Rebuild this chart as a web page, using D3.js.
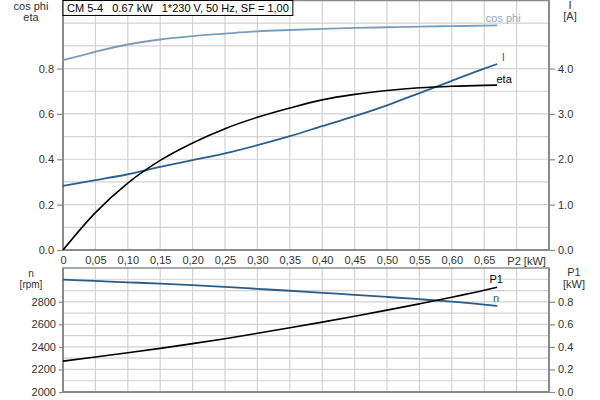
<!DOCTYPE html>
<html><head><meta charset="utf-8">
<script src="https://cdn.jsdelivr.net/npm/d3@7/dist/d3.min.js"></script>
<style>
html,body{margin:0;padding:0;background:#fff;}
svg text{font-family:"Liberation Sans",Arial,sans-serif;}
</style></head>
<body><svg id="c" width="600" height="400"></svg>
<script>
// ---- data ----
const title = "CM 5-4   0.67 kW   1*230 V, 50 Hz, SF = 1,00";
const p2 = [0, 0.05, 0.10, 0.15, 0.20, 0.25, 0.30, 0.35, 0.40, 0.45, 0.50, 0.55, 0.60, 0.65, 0.67];
const cosPhi = [0.837, 0.874, 0.906, 0.928, 0.943, 0.954, 0.964, 0.970, 0.975, 0.979, 0.982, 0.985, 0.987, 0.989, 0.990];
const eta = [0, 0.165, 0.295, 0.395, 0.472, 0.535, 0.585, 0.626, 0.662, 0.686, 0.703, 0.715, 0.722, 0.726, 0.727];
const current = [1.415, 1.54, 1.67, 1.83, 1.98, 2.13, 2.31, 2.51, 2.73, 2.95, 3.19, 3.46, 3.73, 4.00, 4.10];
const speed = [2997, 2985, 2973, 2961, 2948, 2932, 2915, 2898, 2880, 2862, 2843, 2823, 2801, 2775, 2763];
const p1 = [0.274, 0.310, 0.348, 0.387, 0.429, 0.473, 0.521, 0.570, 0.620, 0.672, 0.726, 0.782, 0.840, 0.902, 0.929];
const xTicks = [0, 0.05, 0.10, 0.15, 0.20, 0.25, 0.30, 0.35, 0.40, 0.45, 0.50, 0.55, 0.60, 0.65];
const etaTicks = [0, 0.2, 0.4, 0.6, 0.8];
const iTicks = [0, 1, 2, 3, 4];
const nTicks = [2000, 2200, 2400, 2600, 2800];
const p1Ticks = [0, 0.2, 0.4, 0.6, 0.8];

// ---- layout ----
const L = 63, R = 549;
const top1 = 0.5, bot1 = 250;
const top2 = 268, bot2 = 392;
const svg = d3.select("#c");
const font = 11;
const x = d3.scaleLinear().domain([0, 0.75]).range([L, R]);
const yL1 = d3.scaleLinear().domain([0, 1.1]).range([bot1, top1]);
const yR1 = d3.scaleLinear().domain([0, 5.5]).range([bot1, top1]);
const yL2 = d3.scaleLinear().domain([2000, 3100]).range([bot2, top2]);
const yR2 = d3.scaleLinear().domain([0, 1.1]).range([bot2, top2]);

const gridC = "#d2d2d2", axisC = "#8a8a8a", txtC = "#333";
const vGrid = d3.range(1, 15).map(i => i * 0.05);

function grid(yScale, hVals, t, b) {
  const g = svg.append("g");
  g.selectAll(".v").data(vGrid).join("line")
    .attr("x1", d => x(d)).attr("x2", d => x(d)).attr("y1", t).attr("y2", b)
    .attr("stroke", gridC).attr("stroke-width", 1.2);
  g.selectAll(".h").data(hVals).join("line")
    .attr("x1", L).attr("x2", R).attr("y1", d => yScale(d)).attr("y2", d => yScale(d))
    .attr("stroke", gridC).attr("stroke-width", 1.2);
}
grid(yL1, d3.range(1, 11).map(i => i / 10), top1, bot1);
grid(yL2, d3.range(1, 11).map(i => 2000 + i * 100), top2, bot2);

// frames
[[top1, bot1], [top2, bot2]].forEach(([t, b]) => {
  svg.append("rect").attr("x", L).attr("y", t).attr("width", R - L).attr("height", b - t)
    .attr("fill", "none").attr("stroke", axisC).attr("stroke-width", 1.5);
  svg.append("line").attr("x1", L).attr("x2", L).attr("y1", t).attr("y2", b).attr("stroke", axisC).attr("stroke-width", 2);
  svg.append("line").attr("x1", R).attr("x2", R).attr("y1", t).attr("y2", b).attr("stroke", axisC).attr("stroke-width", 2);
  svg.append("line").attr("x1", L).attr("x2", R).attr("y1", b).attr("y2", b).attr("stroke", axisC).attr("stroke-width", 2);
});

// axes
function styleAxis(g) {
  g.select(".domain").remove();
  g.selectAll(".tick line").attr("stroke", axisC).attr("stroke-width", 1.2);
  g.selectAll(".tick text").attr("fill", txtC).style("font-size", font + "px")
    .style("font-family", '"Liberation Sans",Arial,sans-serif');
}
const fmt1 = d3.format(".1f");
svg.append("g").attr("transform", `translate(${L},0)`)
  .call(d3.axisLeft(yL1).tickValues(etaTicks).tickFormat(fmt1).tickSize(6).tickPadding(3)).call(styleAxis);
svg.append("g").attr("transform", `translate(${R},0)`)
  .call(d3.axisRight(yR1).tickValues(iTicks).tickFormat(fmt1).tickSize(6).tickPadding(3)).call(styleAxis);
svg.append("g").attr("transform", `translate(${L},0)`)
  .call(d3.axisLeft(yL2).tickValues(nTicks).tickFormat(d3.format("d")).tickSize(4).tickPadding(3)).call(styleAxis);
svg.append("g").attr("transform", `translate(${R},0)`)
  .call(d3.axisRight(yR2).tickValues(p1Ticks).tickFormat(fmt1).tickSize(6).tickPadding(3)).call(styleAxis);
const xAx = svg.append("g").attr("transform", `translate(0,${bot1})`)
  .call(d3.axisBottom(x).tickValues(xTicks).tickSize(0).tickPadding(6)
    .tickFormat(d => d === 0 ? "0" : d3.format(".2f")(d).replace(".", ",")))
  .call(styleAxis);
svg.append("text").attr("x", x(0.70) + 10).attr("y", bot1 + 15).attr("text-anchor", "middle")
  .attr("fill", txtC).style("font-size", font + "px").text("P2 [kW]");

// axis titles
function label(tx, ty, s, anchor, col, size) {
  svg.append("text").attr("x", tx).attr("y", ty).attr("text-anchor", anchor || "middle")
    .attr("fill", col || txtC).style("font-size", (size || font) + "px").text(s);
}
label(31, 10, "cos phi");
label(31, 21, "eta");
label(570, 9, "I");
label(570, 20, "[A]");
label(31, 277, "n", "middle", txtC, 10);
label(31, 288, "[rpm]", "middle", txtC, 10);
label(574, 276, "P1");
label(574, 288, "[kW]");

// curves
function curve(vals, yScale, col, w) {
  const line = d3.line().x((d, i) => x(p2[i])).y(d => yScale(d)).curve(d3.curveMonotoneX);
  svg.append("path").datum(vals).attr("d", line).attr("fill", "none")
    .attr("stroke", col).attr("stroke-width", w || 1.6);
}
const cosC = "#7d9cba", iC = "#2f5f8c", nC = "#2c5b86";
curve(cosPhi, yL1, cosC, 1.8);
curve(current, yR1, iC, 1.8);
curve(eta, yL1, "#000", 1.6);
curve(speed, yL2, nC, 1.8);
curve(p1, yR2, "#000", 1.6);

// curve labels
const last = p2.length - 1;
label(x(p2[last]) + 6, yL1(cosPhi[last]) - 3, "cos phi", "middle", "#8fa9c2");
label(x(p2[last]) + 6, yR1(current[last]) - 3, "I", "middle", iC);
label(x(p2[last]) + 7, yL1(eta[last]) - 2, "eta", "middle", "#000");
label(x(p2[last]) - 1, yR2(p1[last]) - 4, "P1", "middle", "#000");
label(x(p2[last]) - 1, yL2(speed[last]) - 4, "n", "middle", nC);

// title box
const tb = svg.append("g");
const tt = tb.append("text").attr("x", L + 4).attr("y", 11.5).attr("fill", "#000")
  .style("font-size", font + "px").attr("xml:space", "preserve").style("white-space", "pre").text(title);
const w = tt.node().getComputedTextLength();
tb.insert("rect", "text").attr("x", L).attr("y", 0.5).attr("width", w + 8).attr("height", 15)
  .attr("fill", "#fff").attr("stroke", "#000").attr("stroke-width", 1);
</script></body></html>
